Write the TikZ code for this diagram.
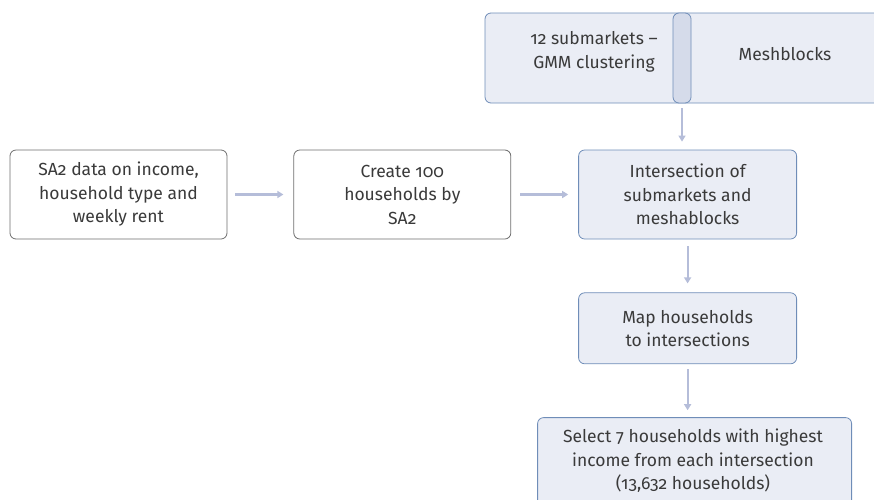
\documentclass[tikz,border=0pt]{standalone}
\usepackage{fontspec}
\setmainfont[Numbers=OldStyle]{Fira Sans}
\usepackage{xcolor}
\usetikzlibrary{positioning, arrows.meta}

\definecolor{txtgray}{HTML}{3A3A3A}
\definecolor{boxgray}{HTML}{6E6E6E}
\definecolor{boxblue}{HTML}{6F8DB8}
\definecolor{fillblue}{HTML}{EAEDF5}
\definecolor{fillsep}{HTML}{D5DBEA}
\definecolor{arrowblue}{HTML}{B5BDD9}

\tikzset{
  plainbox/.style = {draw=boxgray, fill=white, rounded corners=6pt, line width=0.8pt,
    minimum width=217pt, minimum height=89pt, align=center, text=txtgray,
    font=\fontsize{17.5}{23.5}\selectfont},
  bluebox/.style = {plainbox, draw=boxblue, fill=fillblue},
  flow/.style = {draw=arrowblue, line width=2.2pt,
    -{Triangle[length=6pt, width=7pt]}}
}

\begin{document}
\begin{tikzpicture}[x=1pt, y=-1pt]
    \useasboundingbox (0,0) rectangle (874,499);
    \clip (0,0) rectangle (874,499);

    % top row of the diagram
    \node (frame) [bluebox, minimum width=440pt, minimum height=90pt] at (705,58) {};
    \node (sep) [draw=boxblue, fill=fillsep, rounded corners=6pt, line width=0.8pt,
        minimum width=18pt, minimum height=90pt] at (682,58) {};
    \node (sub) [align=center, text=txtgray, font=\fontsize{17.5}{23.5}\selectfont]
        at (594,52) {12 submarkets --\\GMM clustering};
    \node (mesh) [text=txtgray, font=\fontsize{17.5}{23.5}\selectfont]
        at (785,54) {Meshblocks};

    % main chain
    \node (sa2) [plainbox] at (118.5,194.5) {SA2 data on income,\\household type and\\weekly rent};
    \node (create) [plainbox, right = 66pt of sa2] {Create 100\\households by\\SA2};
    \node (inter) [bluebox, right = 67pt of create, minimum width=218pt]
        {Intersection of\\submarkets and\\meshablocks};
    \node (map) [bluebox, below = 53pt of inter, minimum width=218pt, minimum height=71pt]
        {Map households\\to intersections};
    \node (select) [bluebox, below = 53pt of map, xshift=7pt, minimum width=314pt,
        minimum height=100pt, anchor=north]
        {};
    \node (seltext) [align=center, text=txtgray, font=\fontsize{17.5}{23.5}\selectfont]
        at (693,461) {Select 7 households with highest\\income from each intersection\\(13,632 households)};

    \draw [flow] ([xshift=8pt]sa2.east) -- ([xshift=-10pt]create.west);
    \draw [flow] ([xshift=9pt]create.east) -- ([xshift=-10pt]inter.west);
    \draw [flow] ([yshift=-5pt]sep.south) -- ([yshift=8pt]inter.north -| sep);
    \draw [flow] ([yshift=-7pt]inter.south) -- ([yshift=9pt]map.north);
    \draw [flow] ([yshift=-5pt]map.south) -- ([yshift=7pt]map.south |- select.north);
\end{tikzpicture}
\end{document}
